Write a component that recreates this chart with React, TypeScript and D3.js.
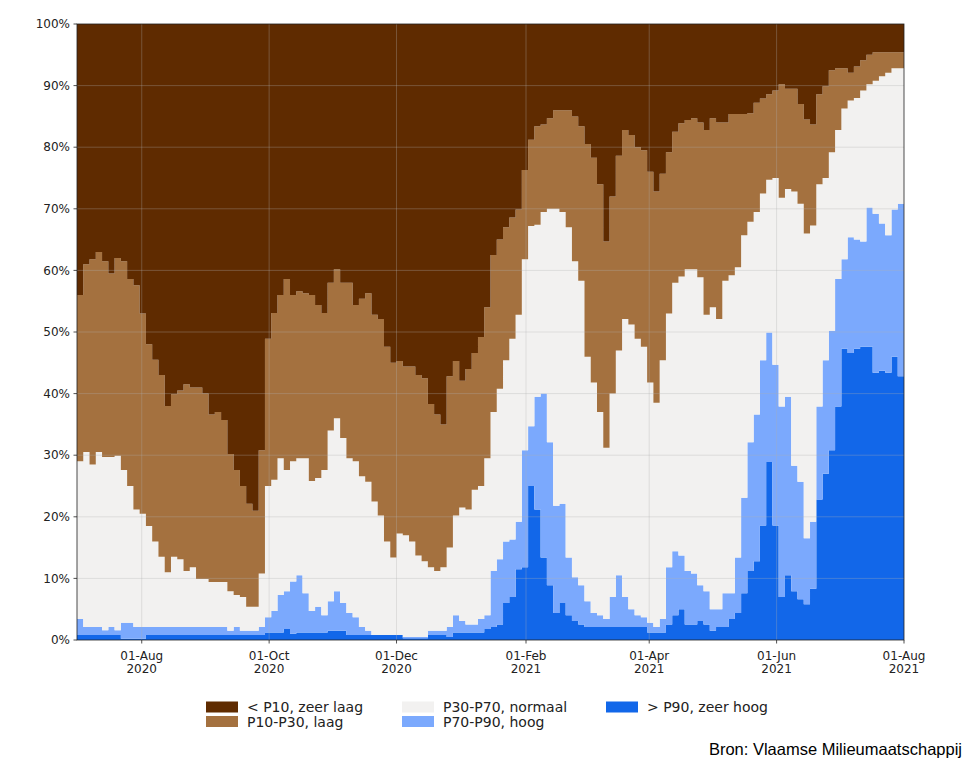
import { useMemo } from 'react'
import * as d3 from 'd3'

// share of measuring points (%) whose level lies above each percentile, sampled every 3 days from 1 Jul 2020
const ABOVE_P10 = [
  56, 61, 61.8, 63, 61.5, 59.5, 62, 61.5, 58.6, 57.6, 53, 48, 45.5, 43, 38, 39.9,
  40.5, 41.5, 41, 41, 40, 36.6, 37, 35.7, 30.2, 27.6, 25, 22.1, 21, 30.8, 48.9, 53.1,
  56, 58.6, 56, 56.6, 56.3, 56, 54.4, 53.1, 58, 60.2, 58, 58, 54.4, 55.4, 56.3, 52.8,
  52.1, 47.6, 45, 45.3, 44.4, 44.4, 43, 42.5, 38.3, 36.6, 35, 42.8, 45.3, 42.1, 44, 46.6,
  49.2, 54, 62.5, 65, 67, 68.6, 69.9, 76.3, 81.2, 83.4, 83.7, 84.7, 86, 86, 86, 85,
  83.4, 80.5, 78.3, 74, 64.7, 72, 78.6, 82.8, 82, 80, 79.5, 76, 72.8, 75.7, 79.2, 82.5,
  83.9, 84.4, 84.7, 84, 82.8, 84.7, 84, 84, 85.4, 85.4, 85.4, 85.5, 87.2, 87.9, 88.6, 89.2,
  90.2, 89.5, 89.5, 87, 84.5, 83.7, 88.6, 89.9, 92.5, 92.8, 92.8, 92.1, 93.1, 94.1, 95, 95.4,
  95.4, 95.4, 95.4, 95.4,
]
const ABOVE_P30 = [
  29, 30.5, 28.5, 30.5, 29.7, 29.7, 29.9, 27.6, 25, 21.2, 20.5, 18.5, 16, 13.5, 11, 13.5,
  13.1, 11.2, 11.8, 9.9, 9.9, 9.4, 9.4, 9.4, 7.9, 7.3, 7, 5.4, 5.4, 10.8, 25, 26,
  29.5, 27.6, 29, 29.5, 29.5, 25.8, 26.3, 27.6, 34, 36, 32.8, 29.5, 29, 26.6, 25.7, 22.5,
  20.2, 16, 13.4, 17.3, 17, 16, 13.7, 12.8, 11.8, 11.2, 11.8, 15, 20.2, 21.5, 21.2, 24.4,
  25, 29.5, 37, 40.8, 45.4, 48.9, 52.8, 61.8, 67.2, 67.4, 69.5, 70, 70, 69.5, 67, 61.5,
  58.3, 46, 41.8, 37, 31.2, 40, 47, 52.1, 51.2, 48.9, 47.6, 41.8, 38.5, 45.4, 53, 58,
  59, 60.2, 60.2, 58.9, 52.8, 54, 52.1, 58.3, 59.2, 60.5, 65.7, 67.9, 69.5, 72.5, 74.7, 75,
  71.8, 73.2, 72.8, 70.8, 66, 67.3, 74, 75, 79.2, 82.8, 86.3, 87.6, 88, 89.2, 90.2, 90.8,
  91.5, 92.1, 92.8, 92.8,
]
const ABOVE_P70 = [
  3.4, 2.1, 2.1, 2.1, 1.6, 2.1, 1.6, 2.8, 2.8, 2.1, 2.1, 2.1, 2.1, 2.1, 2.1, 2.1,
  2.1, 2.1, 2.1, 2.1, 2.1, 2.1, 2.1, 2.1, 1.5, 2.1, 1.5, 1.5, 1.5, 2.1, 3.7, 4.7,
  7.3, 7.9, 9.5, 10.5, 7.6, 4.7, 5.4, 4, 6.3, 7.9, 6, 4.4, 3.7, 2.1, 1.5, 0.8,
  0.8, 0.8, 0.8, 0.8, 0.5, 0.5, 0.5, 0.5, 1.5, 1.5, 1.5, 2.1, 4, 3.1, 2.5, 2.5,
  3.4, 4, 11.2, 13.1, 16, 16.3, 19.2, 30.8, 34.7, 39.5, 40, 32.1, 21.8, 22.1, 13.4, 10.2,
  8.9, 6.3, 4.4, 4, 3.4, 7, 10.5, 7, 5, 4, 3.7, 2.8, 2.1, 3.4, 11.8, 14.4,
  13.7, 11.2, 10.8, 8.9, 7.9, 5, 5, 7.6, 7.6, 13.4, 23.1, 32.1, 36.6, 45.4, 49.9, 44.7,
  37.9, 39.5, 28.3, 25.7, 16.5, 19.2, 37.9, 45.4, 50.2, 58.6, 61.8, 65.4, 65, 64.7, 70.2, 69.2,
  67.6, 65.7, 69.9, 70.8,
]
const ABOVE_P90 = [
  0.8, 0.8, 0.8, 0.8, 0.8, 0.8, 0.8, 0.2, 0.2, 0.2, 0.2, 0.8, 0.8, 0.8, 0.8, 0.8,
  0.8, 0.8, 0.8, 0.8, 0.8, 0.8, 0.8, 0.8, 0.8, 0.8, 0.8, 0.8, 0.8, 0.8, 1.2, 1.2,
  1.2, 1.8, 1, 1.2, 1.2, 1.2, 1.2, 1.2, 1.5, 1.5, 1.5, 0.8, 0.8, 0.8, 0.8, 0.8,
  0.8, 0.8, 0.8, 0.8, 0.3, 0.3, 0.3, 0.3, 0.8, 0.8, 0.8, 0.5, 1.2, 1.2, 1.2, 1.2,
  1.2, 1.8, 2.1, 2.5, 6, 7, 11.5, 11.8, 25, 21.2, 13.4, 8.9, 4.4, 6, 4, 3.1,
  2.5, 2.1, 2.1, 2.1, 2.1, 2.1, 2.1, 2.1, 2.1, 2.1, 2.1, 1.2, 1.2, 1.2, 2.5, 4,
  5, 2.5, 2.5, 3.1, 2.5, 1.5, 2.1, 2.1, 3.4, 4.4, 7.6, 11.2, 12.8, 18.6, 28.9, 18.6,
  7, 10.5, 7.9, 6.6, 5.8, 8.3, 22.8, 27, 30.8, 37.9, 47.3, 46.6, 47.3, 47.6, 47.6, 43.4,
  43.7, 43.4, 46, 42.8,
]

const START = new Date(2020, 6, 1)
const END = new Date(2021, 7, 1)
const STEP_DAYS = 3

const TICK_DATES = [
  new Date(2020, 7, 1), new Date(2020, 9, 1), new Date(2020, 11, 1),
  new Date(2021, 1, 1), new Date(2021, 3, 1), new Date(2021, 5, 1), new Date(2021, 7, 1),
]
const Y_TICKS = [0, 10, 20, 30, 40, 50, 60, 70, 80, 90, 100]

const KEYS = ['zeerHoog', 'hoog', 'normaal', 'laag', 'zeerLaag'] as const
const COLOR: Record<string, string> = {
  zeerLaag: '#5f2b00',
  laag: '#a4713f',
  normaal: '#f2f1f0',
  hoog: '#7ba9fd',
  zeerHoog: '#1267e9',
}
const LEGEND = [
  { key: 'zeerLaag', label: '< P10, zeer laag' },
  { key: 'laag', label: 'P10-P30, laag' },
  { key: 'normaal', label: 'P30-P70, normaal' },
  { key: 'hoog', label: 'P70-P90, hoog' },
  { key: 'zeerHoog', label: '> P90, zeer hoog' },
]

const W = 976
const H = 765
const M = { left: 77, right: 72, top: 24, bottom: 125 }
const FONT = "'DejaVu Sans', sans-serif"

export default function App() {
  const x = d3.scaleTime().domain([START, END]).range([M.left, W - M.right])
  const y = d3.scaleLinear().domain([0, 100]).range([H - M.bottom, M.top])

  const rows = useMemo(() => {
    const r = ABOVE_P10.map((p10, i) => ({
      date: d3.timeDay.offset(START, i * STEP_DAYS),
      zeerHoog: ABOVE_P90[i],
      hoog: ABOVE_P70[i] - ABOVE_P90[i],
      normaal: ABOVE_P30[i] - ABOVE_P70[i],
      laag: p10 - ABOVE_P30[i],
      zeerLaag: 100 - p10,
    }))
    // close the last step at the end of the axis
    r.push({ ...r[r.length - 1], date: END })
    return r
  }, [])

  const series = d3.stack<any>().keys(KEYS as unknown as string[])(rows)
  const area = d3.area<any>()
    .x(d => x(d.data.date))
    .y0(d => y(d[0]))
    .y1(d => y(d[1]))
    .curve(d3.curveStepAfter)

  const [x0, x1] = x.range()
  const [yb, yt] = y.range()
  const fmtDay = d3.timeFormat('%d-%b')
  const fmtYear = d3.timeFormat('%Y')

  return (
    <svg width={W} height={H} style={{ position: 'absolute', left: 0, top: 0, background: '#fff' }}>
      {series.map(s => (
        <path key={s.key} d={area(s) ?? ''} fill={COLOR[s.key]} />
      ))}

      {/* grid */}
      <g stroke="#b0b0b0" strokeOpacity={0.4} strokeWidth={0.8}>
        {Y_TICKS.slice(1, -1).map(t => (
          <line key={t} x1={x0} x2={x1} y1={y(t)} y2={y(t)} />
        ))}
        {TICK_DATES.slice(0, -1).map(t => (
          <line key={+t} x1={x(t)} x2={x(t)} y1={yt} y2={yb} />
        ))}
      </g>

      {/* frame */}
      <rect x={x0} y={yt} width={x1 - x0} height={yb - yt} fill="none" stroke="#222" strokeWidth={0.8} />

      {/* y axis */}
      <g fontFamily={FONT} fontSize={12} fill="#222">
        {Y_TICKS.map(t => (
          <g key={t}>
            <line x1={x0 - 3.5} x2={x0} y1={y(t)} y2={y(t)} stroke="#222" strokeWidth={0.8} />
            <text x={x0 - 7} y={y(t)} dy="0.35em" textAnchor="end">{t}%</text>
          </g>
        ))}
      </g>

      {/* x axis */}
      <g fontFamily={FONT} fontSize={12} fill="#222">
        {TICK_DATES.map(t => (
          <g key={+t}>
            <line x1={x(t)} x2={x(t)} y1={yb} y2={yb + 3.5} stroke="#222" strokeWidth={0.8} />
            <text x={x(t)} y={yb + 20} textAnchor="middle">{fmtDay(t)}</text>
            <text x={x(t)} y={yb + 33} textAnchor="middle">{fmtYear(t)}</text>
          </g>
        ))}
      </g>

      {/* legend */}
      <g fontFamily={FONT} fontSize={14} fill="#222">
        {LEGEND.map((l, i) => {
          const col = Math.floor(i / 2)
          const row = i % 2
          const lx = [206, 402, 606][col]
          const ly = 701.5 + row * 14.5
          return (
            <g key={l.key}>
              <rect x={lx} y={ly} width={32} height={11} fill={COLOR[l.key]} />
              <text x={lx + 41} y={ly + 10.5}>{l.label}</text>
            </g>
          )
        })}
      </g>

      <text x={962} y={755} textAnchor="end" fontFamily="'Liberation Sans', Arial, sans-serif" fontSize={16.5} fill="#000">
        Bron: Vlaamse Milieumaatschappij
      </text>
    </svg>
  )
}
